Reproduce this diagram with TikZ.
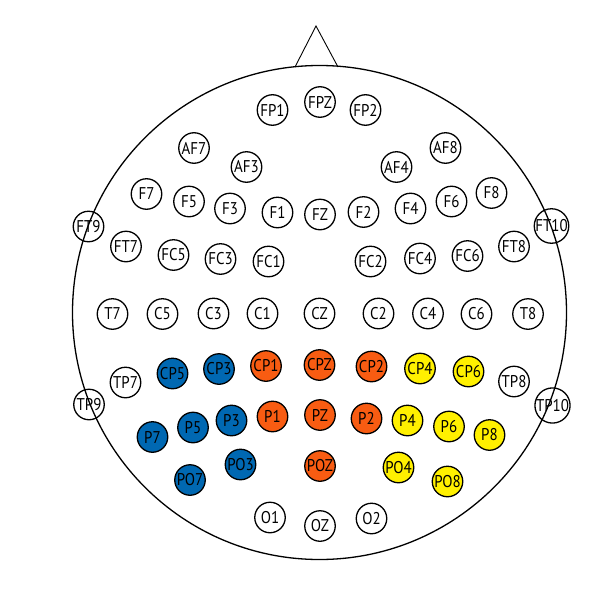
\documentclass[tikz,border=0pt]{standalone}
\usepackage{fontspec}
\setmainfont{PT Sans}[FakeStretch=0.88]
\definecolor{eblue}{RGB}{0,104,178}
\definecolor{eorange}{RGB}{248,92,18}
\definecolor{eyellow}{RGB}{255,240,0}
\tikzset{
  head/.style={line width=1.3pt},
  elec/.style={circle, draw=black, line width=1.3pt, minimum size=30.5pt, inner sep=0pt, font=\fontsize{17}{17}\selectfont},
  wht/.style={elec, fill=white},
  blu/.style={elec, fill=eblue},
  org/.style={elec, fill=eorange},
  yel/.style={elec, fill=eyellow},
  edge/.style={elec, fill=none}
}
\begin{document}
\begin{tikzpicture}[x=1pt,y=-1pt]
\useasboundingbox (0,0) rectangle (613,613);
\coordinate (nl) at (295,67);
\coordinate (nt) at (316,26);
\coordinate (nr) at (338,67);
\draw[line width=0.9pt] (nl) -- (nt) -- (nr);
\node[head, circle, draw, minimum size=494pt, inner sep=0pt] (headc) at (319.5,312.5) {};
\foreach \n/\x/\y/\s in {
 FP1/272.5/110/wht, FPZ/320/102/wht, FP2/365.5/110/wht,
 AF7/194/148/wht, AF3/246.5/167/wht, AF4/396.5/167/wht, AF8/445.5/148/wht,
 F7/146.5/194/wht, F5/189/201.5/wht, F3/230/208.5/wht, F1/277.5/212.5/wht, FZ/320/214.5/wht,
 F2/363.5/212/wht, F4/410.5/208.5/wht, F6/451.5/201.5/wht, F8/491.5/193/wht,
 FT7/126/246.5/wht, FC5/173.5/255/wht, FC3/220.5/259/wht, FC1/268.5/261.5/wht,
 FC2/370.5/261.5/wht, FC4/420/258.5/wht, FC6/467.5/256/wht, FT8/514/246.5/wht,
 T7/112.5/314/wht, C5/162.5/314/wht, C3/213.5/313.5/wht, C1/262.5/313.5/wht, CZ/319.5/313.5/wht,
 C2/378.5/313.5/wht, C4/428/313.5/wht, C6/476.5/314/wht, T8/528/314/wht,
 TP7/125.5/382.5/wht, CP5/172.5/373.5/blu, CP3/219/369/blu, CP1/266/366/org, CPZ/319.5/365/org,
 CP2/371.5/366.5/org, CP4/420/368.5/yel, CP6/468.5/371.5/yel, TP8/514/381.5/wht,
 P7/152.5/437/blu, P5/193/427.5/blu, P3/231.5/420.5/blu, P1/272.5/416.5/org, PZ/320/415/org,
 P2/366.5/418.5/org, P4/407.5/420.5/yel, P6/449/426.5/yel, P8/489.5/435/yel,
 PO7/190/480/blu, PO3/240.5/464.5/blu, POZ/320/466/org, PO4/398.5/467.5/yel, PO8/447.5/481.5/yel,
 O1/270/517.5/wht, OZ/320/526/wht, O2/371.5/518.5/wht,
 FT9/88.5/226.5/edge, FT10/551.5/226/edge, TP9/89/404.5/edge, TP10/552.5/405.5/edge}
{\node[\s] (\n) at (\x,\y) {\n};}
\end{tikzpicture}
\end{document}
